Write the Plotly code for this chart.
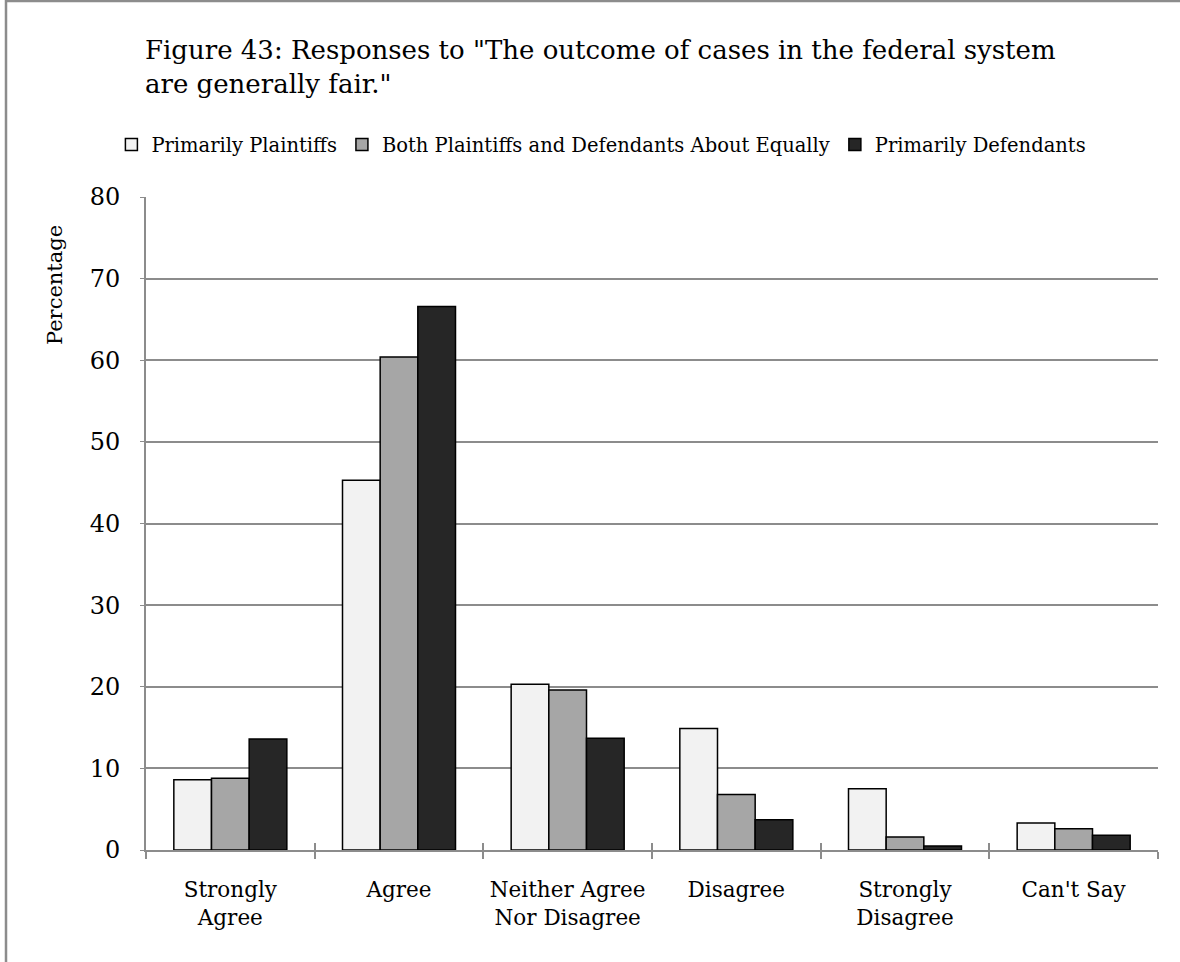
import plotly.graph_objects as go

categories = ["Strongly<br>Agree", "Agree", "Neither Agree<br>Nor Disagree",
              "Disagree", "Strongly<br>Disagree", "Can't Say"]
primarily_plaintiffs = [8.6, 45.3, 20.3, 14.9, 7.5, 3.3]
both_equally = [8.8, 60.4, 19.6, 6.8, 1.6, 2.6]
primarily_defendants = [13.6, 66.6, 13.7, 3.7, 0.5, 1.8]

series = [
    ("Primarily Plaintiffs", primarily_plaintiffs, "#F2F2F2"),
    ("Both Plaintiffs and Defendants About Equally", both_equally, "#A6A6A6"),
    ("Primarily Defendants", primarily_defendants, "#262626"),
]

FONT = "DejaVu Serif"
GRID = "#8C8C8C"

fig = go.Figure()
for name, vals, color in series:
    fig.add_trace(go.Bar(
        name=name, x=categories, y=vals,
        marker=dict(color=color, line=dict(color="#000000", width=1.5)),
    ))

# invisible overlay axis carrying the inward half of the category ticks
fig.add_trace(go.Scatter(x=categories, y=[None] * 6, xaxis="x2",
                         showlegend=False, hoverinfo="skip"))

fig.update_layout(
    width=1180, height=962,
    paper_bgcolor="white", plot_bgcolor="white",
    margin=dict(l=146, r=22, t=197, b=112, autoexpand=False),
    font=dict(family=FONT, color="#000000"),
    barmode="group", bargap=0.33, bargroupgap=0,
    legend=dict(
        orientation="h", x=0.45, xanchor="center", y=1.08, yanchor="middle",
        font=dict(family=FONT, size=19.5), traceorder="normal",
        itemwidth=30, bgcolor="rgba(0,0,0,0)",
    ),
    xaxis=dict(
        showgrid=False, showline=True, linecolor=GRID, linewidth=2,
        ticks="outside", ticklen=7, tickwidth=1.5, tickcolor=GRID,
        tickson="boundaries", ticklabelstandoff=19, tickangle=0,
        tickfont=dict(family=FONT, size=21.5),
    ),
    xaxis2=dict(
        overlaying="x", matches="x", showgrid=False, showline=False,
        ticks="inside", ticklen=7, tickwidth=1.5, tickcolor=GRID,
        tickson="boundaries", showticklabels=False, anchor="y",
    ),
    yaxis=dict(
        range=[0, 80], dtick=10, showgrid=True, gridcolor=GRID, gridwidth=1.5,
        showline=True, linecolor=GRID, linewidth=2,
        ticks="outside", ticklen=4, tickcolor=GRID,
        ticklabelstandoff=15, zeroline=False,
        tickfont=dict(family=FONT, size=24),
    ),
    annotations=[
        dict(
            text='Figure 43: Responses to "The outcome of cases in the federal system<br>are generally fair."',
            xref="paper", yref="paper", x=(143 - 146) / 1012, y=(850 - 67) / 653,
            xanchor="left", yanchor="middle", align="left", showarrow=False,
            font=dict(family=FONT, size=26),
        ),
        dict(
            text="Percentage", textangle=-90, xref="paper", yref="paper",
            x=(55 - 146) / 1012, y=(850 - 285) / 653, showarrow=False,
            xanchor="center", yanchor="middle",
            font=dict(family=FONT, size=21),
        ),
    ],
    shapes=[dict(
        type="rect", xref="paper", yref="paper",
        x0=(6 - 146) / 1012, x1=(1200 - 146) / 1012,
        y0=(850 - 1000) / 653, y1=(850 - 1) / 653,
        line=dict(color="#8C8C8C", width=2.5), fillcolor="rgba(0,0,0,0)",
        layer="below",
    )],
)

fig.write_html("out.html")
